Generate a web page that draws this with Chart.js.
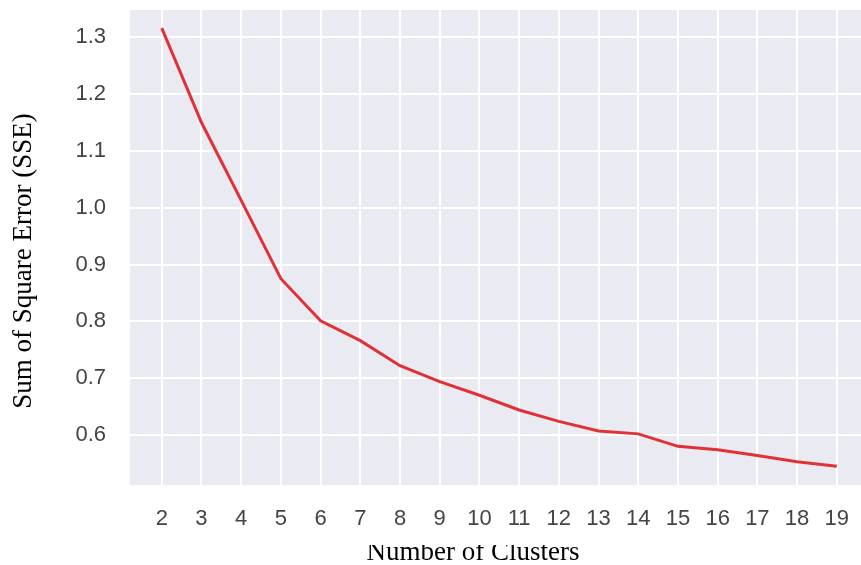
<!DOCTYPE html>
<html>
<head>
<meta charset="utf-8">
<script src="https://cdn.jsdelivr.net/npm/chart.js@4.4.1/dist/chart.umd.min.js"></script>
<style>
  html, body { margin: 0; padding: 0; background: #ffffff; overflow: hidden; }
  #wrap { width: 861px; height: 565px; position: relative; }
</style>
</head>
<body>
<div id="wrap"><canvas id="c" width="861" height="565"></canvas></div>
<script>
// ---- data ----
const clusters = [2, 3, 4, 5, 6, 7, 8, 9, 10, 11, 12, 13, 14, 15, 16, 17, 18, 19];
const sse = [1.316, 1.150, 1.013, 0.875, 0.801, 0.766, 0.722, 0.694, 0.670, 0.644,
             0.624, 0.607, 0.602, 0.580, 0.574, 0.564, 0.553, 0.545];
const yTickValues = [0.6, 0.7, 0.8, 0.9, 1.0, 1.1, 1.2, 1.3];
const xTitle = 'Number of Clusters';
const yTitle = 'Sum of Square Error (SSE)';

const points = clusters.map((c, i) => ({ x: c, y: sse[i] }));

const bgPlugin = {
  id: 'plotBg',
  beforeDraw(chart) {
    const { ctx, chartArea: a } = chart;
    ctx.save();
    ctx.fillStyle = '#eaeaf2';
    ctx.fillRect(a.left, a.top, a.right - a.left, a.bottom - a.top);
    ctx.restore();
  }
};

const titlePlugin = {
  id: 'axisTitles',
  afterDraw(chart) {
    const { ctx } = chart;
    ctx.save();
    ctx.fillStyle = '#000000';
    ctx.font = "27px 'Liberation Serif', 'Times New Roman', serif";
    ctx.textAlign = 'center';
    ctx.textBaseline = 'alphabetic';
    // x title: the top of the glyphs is cut off in the reference
    ctx.save();
    ctx.beginPath();
    ctx.rect(0, 545, chart.width, chart.height - 545);
    ctx.clip();
    ctx.fillText(xTitle, 473, 559.5);
    ctx.restore();
    ctx.translate(31, 261);
    ctx.rotate(-Math.PI / 2);
    ctx.fillText(yTitle, 0, 0);
    ctx.restore();
  }
};

function zeroPad(scale) {
  scale.paddingTop = 0; scale.paddingBottom = 0;
  scale.paddingLeft = 0; scale.paddingRight = 0;
}

new Chart(document.getElementById('c'), {
  type: 'line',
  data: {
    datasets: [{
      data: points,
      borderColor: '#e03236',
      borderWidth: 3,
      pointRadius: 0,
      fill: false,
      tension: 0
    }]
  },
  options: {
    responsive: false,
    animation: false,
    devicePixelRatio: 1,
    layout: { padding: { top: 10, right: 0, left: 0, bottom: 0 } },
    plugins: { legend: { display: false }, tooltip: { enabled: false }, title: { display: false } },
    scales: {
      x: {
        type: 'linear',
        min: 1.2,
        max: 19.61,
        border: { display: false },
        grid: { color: '#ffffff', lineWidth: 2, drawTicks: false },
        ticks: {
          color: '#444444',
          font: { family: "'Liberation Sans', Arial, sans-serif", size: 22 },
          padding: 21,
          maxRotation: 0,
          autoSkip: false
        },
        afterBuildTicks(scale) { scale.ticks = clusters.map(v => ({ value: v })); },
        afterFit(scale) { scale.height = 80; zeroPad(scale); }
      },
      y: {
        type: 'linear',
        min: 0.512,
        max: 1.348,
        border: { display: false },
        grid: { color: '#ffffff', lineWidth: 2, drawTicks: false },
        ticks: {
          color: '#444444',
          font: { family: "'Liberation Sans', Arial, sans-serif", size: 22 },
          padding: 24,
          callback: v => v.toFixed(1)
        },
        afterBuildTicks(scale) { scale.ticks = yTickValues.map(v => ({ value: v })); },
        afterFit(scale) { scale.width = 130; zeroPad(scale); }
      }
    }
  },
  plugins: [bgPlugin, titlePlugin]
});
</script>
</body>
</html>
